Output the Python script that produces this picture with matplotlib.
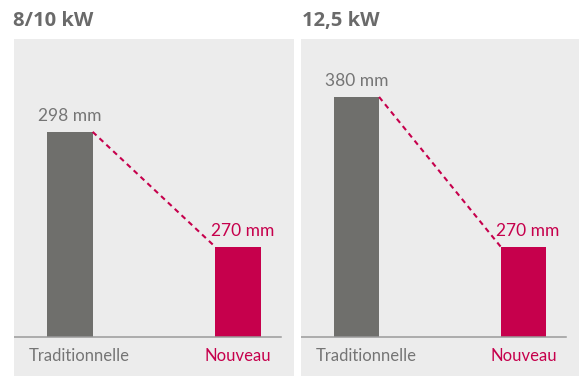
import matplotlib.pyplot as plt

# data
panels = ['8/10 kW', '12,5 kW']
categories = ['Traditionnelle', 'Nouveau']
values_8kw = [298, 270]
values_12kw = [380, 270]
unit = 'mm'

# truncated value axes (the chart does not start at 0)
y_ranges = [(238.6, 320.6), (175.4, 422.5)]
bases = [248.1, 204.0]

GREY_BAR = '#6f6f6c'
RED = '#c6004c'
BG = '#ececec'
TXT = '#757575'
TITLE = '#6a6a6a'

plt.rcParams['font.family'] = ['Lato', 'DejaVu Sans']

W, H = 579, 376
fig = plt.figure(figsize=(W / 100, H / 100), dpi=100)

# axes boxes in pixels: left, top, right, bottom
boxes = [(14, 39, 294, 376), (301, 39, 579, 376)]
title_x = [13, 302]

for i, vals in enumerate([values_8kw, values_12kw]):
    l, t, r, b = boxes[i]
    ax = fig.add_axes([l / W, 1 - b / H, (r - l) / W, (b - t) / H])
    ax.set_facecolor(BG)
    for s in ax.spines.values():
        s.set_visible(False)
    ax.set_xticks([])
    ax.set_yticks([])

    base = bases[i]
    width = 0.27
    x = [0, 1]
    ax.bar(x, [v - base for v in vals], bottom=base, width=width,
           color=[GREY_BAR, RED], zorder=2)
    ax.set_xlim(-0.333, 1.333)
    ax.set_ylim(*y_ranges[i])
    ax.axhline(base, xmin=0.0, xmax=0.952, color='#9a9a9a', lw=1.1, zorder=3)

    # dashed connector
    ax.plot([0 + width / 2, 1 - width / 2], vals, color=RED, lw=1.5,
            linestyle=(0, (2.5, 2.0)), zorder=3)

    # value labels
    ax.annotate(f'{vals[0]} {unit}', (0, vals[0]), xytext=(0, 5.5),
                textcoords='offset points', ha='center', va='bottom',
                color=TXT, fontsize=12.5)
    ax.annotate(f'{vals[1]} {unit}', (1, vals[1]), xytext=(3, 5.5),
                textcoords='offset points', ha='center', va='bottom',
                color=RED, fontsize=12.5)

    # category labels
    ax.annotate(categories[0], (0, base), xytext=(7, -8),
                textcoords='offset points', ha='center', va='top',
                color=TXT, fontsize=12)
    ax.annotate(categories[1], (1, base), xytext=(0, -8),
                textcoords='offset points', ha='center', va='top',
                color=RED, fontsize=12)

    fig.text(title_x[i] / W, 1 - 26 / H, panels[i], ha='left', va='baseline',
             fontsize=14.5, fontweight='bold', color=TITLE,
             family=['Open Sans', 'DejaVu Sans'])

fig.savefig('out.png', dpi=100)
